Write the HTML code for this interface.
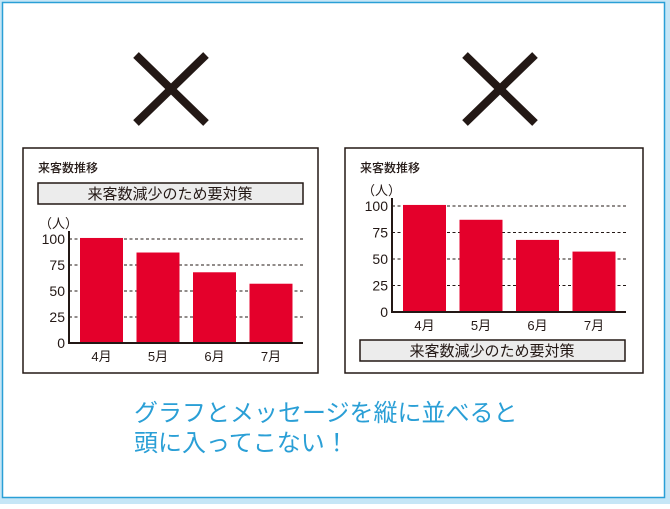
<!DOCTYPE html>
<html><head><meta charset="utf-8">
<style>
body{margin:0;width:670px;height:504px;overflow:hidden;background:#fff;font-family:"Liberation Sans","Noto Sans CJK JP",sans-serif}
svg text{font-family:"Liberation Sans","Noto Sans CJK JP",sans-serif}
</style></head><body>
<svg id="chart" width="670" height="504" xmlns="http://www.w3.org/2000/svg">
<rect x="0" y="0" width="670" height="504" fill="#c6e6f6"/>
<rect x="2.5" y="2.5" width="662" height="495" fill="#fff" stroke="#2a9fd6" stroke-width="1.5"/>
<g stroke="#231815" stroke-width="8">
<line x1="136" y1="55" x2="206" y2="123"/><line x1="206" y1="55" x2="136" y2="123"/></g>
<g stroke="#231815" stroke-width="8">
<line x1="465" y1="55" x2="535" y2="123"/><line x1="535" y1="55" x2="465" y2="123"/></g>
<g id="left"></g><g id="right"></g>
<text x="134" y="421" font-size="24" fill="#2a9fd6">グラフとメッセージを縦に並べると</text>
<text x="134" y="451" font-size="24" fill="#2a9fd6">頭に入ってこない！</text>
</svg>
<script>
const categories=["4月","5月","6月","7月"];
const values=[101,87,68,57];
const ticks=[0,25,50,75,100];
const NS="http://www.w3.org/2000/svg";
function mk(p,tag,a,txt){const e=document.createElementNS(NS,tag);for(const k in a)e.setAttribute(k,a[k]);if(txt!==undefined)e.textContent=txt;p.appendChild(e);return e;}
function panel(g,o){
  const box=mk(g,'rect',{x:o.bx,y:148,width:o.bw,height:225,fill:'#fff',stroke:'#231815','stroke-width':1.5});
  
  const t=mk(g,'text',{x:o.bx+15,y:172,'font-size':12,'font-weight':'500',fill:'#231815'},'来客数推移');
  
  const msg=mk(g,'g',{});
  
  mk(msg,'rect',{x:o.bx+15,y:o.my,width:265,height:21,fill:'#ececec',stroke:'#231815','stroke-width':1.5});
  mk(msg,'text',{x:o.bx+147,y:o.my+16,'font-size':15,'text-anchor':'middle',fill:'#231815'},'来客数減少のため要対策');
  const ax=o.ax,base=o.base,top=o.top,right=ax+234;
  const y=v=>base-(v/100)*(base-top);
  const u=mk(g,'text',{x:ax-30,y:top-11,'font-size':13,fill:'#231815'},'（人）');
  
  ticks.forEach(v=>{
    if(v>0){const l=mk(g,'line',{x1:ax,x2:right,y1:y(v),y2:y(v),stroke:'#231815','stroke-width':1,'stroke-dasharray':'3,2.5'});
    }
    const tl=mk(g,'text',{x:ax-4,y:y(v)+5,'font-size':14,'text-anchor':'end',fill:'#231815'},String(v));
    
  });
  const step=56.5,bw=43;
  categories.forEach((c,i)=>{
    const x=ax+11+i*step;
    const r=mk(g,'rect',{x:x,y:y(values[i]),width:bw,height:base-y(values[i]),fill:'#e4002b'});
    
    const l=mk(g,'text',{x:x+bw/2,y:base+18,'font-size':13,'text-anchor':'middle',fill:'#231815'},c);
    
  });
  const a=mk(g,'polyline',{points:`${ax},${top-8} ${ax},${base} ${right},${base}`,fill:'none',stroke:'#231815','stroke-width':2});
  
}
panel(document.getElementById('left'),{bx:23,bw:295,my:183,ax:69,top:239,base:343});
panel(document.getElementById('right'),{bx:345,bw:298,my:340,ax:392,top:206,base:312});
</script>
</body></html>
